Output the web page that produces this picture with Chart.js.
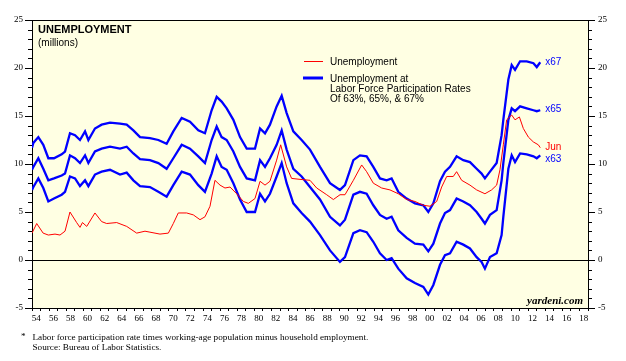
<!DOCTYPE html>
<html>
<head>
<meta charset="utf-8">
<style>
  html, body { margin: 0; padding: 0; background: #fff; }
  #wrap { position: relative; width: 626px; height: 361px; }
</style>
<script src="https://cdn.jsdelivr.net/npm/chart.js@4.4.1/dist/chart.umd.min.js"></script>
</head>
<body>
<div id="wrap"><canvas id="unemploymentChart" width="626" height="361"></canvas></div>
<script>
// Unemployment (millions), dates as decimal years
const unempDates = [
  1954.0, 1954.55, 1955.3, 1955.91, 1956.69, 1957.27, 1957.86, 1958.44, 1959.22, 1959.61,
  1959.9, 1960.4, 1961.36, 1962.14, 1962.73, 1963.9, 1965.07, 1966.24, 1967.21, 1967.79,
  1968.96, 1969.94, 1970.52, 1971.1, 1972.08, 1972.86, 1973.64, 1974.22, 1974.81, 1975.39,
  1975.98, 1976.56, 1977.15, 1977.93, 1978.71, 1979.29, 1980.07, 1980.66, 1981.24, 1981.82,
  1982.6, 1983.07, 1983.77, 1984.35, 1985.33, 1986.5, 1987.28, 1988.45, 1989.23, 1990.01,
  1990.59, 1991.57, 1992.54, 1993.12, 1993.9, 1994.88, 1995.85, 1996.82, 1997.8, 1998.77,
  1999.75, 2000.53, 2001.31, 2001.89, 2002.48, 2003.25, 2003.64, 2004.23, 2005.2, 2005.98,
  2006.95, 2007.73, 2008.32, 2008.71, 2009.1, 2009.49, 2010.08, 2010.47, 2010.98, 2011.44,
  2012.03, 2012.61, 2013.19, 2013.42
];
const unempValues = [
  2.8, 3.8, 2.8, 2.6, 2.7, 2.6, 3.0, 5.0, 3.9, 3.4,
  3.9, 3.5, 4.9, 4.0, 3.8, 3.9, 3.5, 2.8, 3.0, 2.9,
  2.7, 2.8, 3.8, 4.9, 4.9, 4.7, 4.2, 4.5, 5.6, 8.3,
  7.8, 7.5, 7.6, 6.9, 6.1, 5.9, 6.4, 8.2, 7.8, 8.2,
  10.4, 12.0, 9.7, 8.5, 8.4, 8.3, 7.5, 6.8, 6.3, 6.8,
  6.8, 8.3, 9.9, 9.2, 8.0, 7.5, 7.3, 6.9, 6.3, 6.1,
  5.7, 5.6, 6.1, 7.6, 8.7, 8.7, 9.2, 8.3, 7.8, 7.3,
  6.9, 7.3, 7.8, 9.4, 12.0, 14.6, 15.1, 14.6, 14.9, 13.7,
  12.8, 12.3, 12.0, 11.7
];

// Unemployment at participation rates of 63%, 65% and 67%
const lfprDates = [
  1954.0, 1954.16, 1954.74, 1955.32, 1955.91, 1956.57, 1957.47, 1957.86, 1958.44, 1959.03,
  1959.61, 1960.2, 1960.59, 1961.36, 1962.14, 1963.12, 1964.29, 1965.07, 1965.85, 1966.63,
  1967.79, 1968.77, 1969.74, 1970.52, 1971.5, 1972.47, 1973.44, 1974.22, 1975.0, 1975.59,
  1976.17, 1976.76, 1977.54, 1978.32, 1979.1, 1980.07, 1980.66, 1981.24, 1981.82, 1982.6,
  1983.19, 1983.77, 1984.55, 1985.52, 1986.5, 1987.67, 1988.84, 1990.0, 1990.59, 1991.57,
  1992.34, 1993.12, 1993.9, 1994.68, 1995.46, 1996.04, 1996.82, 1997.8, 1998.77, 1999.75,
  2000.33, 2000.92, 2001.7, 2002.28, 2002.87, 2003.64, 2004.42, 2005.2, 2005.98, 2006.56,
  2006.95, 2007.54, 2008.32, 2008.9, 2009.1, 2009.69, 2010.08, 2010.47, 2011.06, 2011.84,
  2012.62, 2013.01, 2013.42
];
const at63 = [
  7.3, 7.6, 8.5, 7.5, 6.1, 6.4, 6.8, 7.1, 8.7, 8.5,
  7.7, 8.3, 7.7, 8.9, 9.2, 9.4, 8.9, 9.1, 8.3, 7.7,
  7.6, 7.1, 6.6, 7.8, 9.2, 8.9, 7.8, 7.1, 9.0, 10.8,
  9.7, 9.4, 8.0, 6.3, 5.0, 5.0, 6.9, 6.1, 6.9, 8.7,
  10.1, 8.0, 5.9, 4.9, 4.0, 2.6, 1.0, -0.2, 0.3, 2.8,
  3.1, 2.9, 1.9, 0.7, 0.0, 0.2, -0.9, -1.9, -2.4, -2.8,
  -3.6, -2.6, -0.5, 0.5, 0.7, 1.9, 1.6, 1.2, 0.3, -0.2,
  -0.9, 0.3, 0.7, 2.6, 4.5, 9.5, 10.9, 10.2, 11.1, 11.0,
  10.8, 10.6, 10.9
];
const at65 = [
  9.4, 9.7, 10.6, 9.5, 8.3, 8.5, 8.8, 9.0, 10.9, 10.6,
  10.1, 10.9, 10.1, 11.3, 11.6, 11.8, 11.6, 11.8, 11.1, 10.5,
  10.4, 10.1, 9.5, 10.6, 12.0, 11.6, 10.8, 10.1, 12.5, 13.9,
  12.8, 12.5, 11.3, 9.7, 8.5, 8.3, 10.4, 9.7, 10.6, 12.0,
  13.5, 11.5, 9.5, 8.7, 7.6, 6.3, 4.5, 3.6, 4.2, 6.8,
  7.1, 6.9, 5.7, 4.7, 4.3, 4.5, 3.1, 2.3, 1.7, 1.6,
  0.9, 1.7, 3.8, 4.9, 5.2, 6.4, 6.1, 5.7, 5.0, 4.3,
  3.8, 4.7, 5.2, 8.3, 10.1, 14.6, 15.8, 15.5, 16.0, 15.8,
  15.6, 15.5, 15.6
];
const at67 = [
  11.7, 12.2, 12.8, 12.0, 10.6, 10.6, 11.0, 11.3, 13.2, 13.0,
  12.5, 13.4, 12.5, 13.7, 14.1, 14.3, 14.2, 14.1, 13.5, 12.8,
  12.7, 12.5, 12.1, 13.4, 14.8, 14.4, 13.5, 13.2, 15.6, 17.0,
  16.5, 15.8, 14.6, 12.8, 11.6, 11.6, 13.7, 13.2, 14.1, 16.0,
  17.1, 15.3, 13.4, 12.5, 11.5, 9.7, 8.0, 7.3, 7.8, 10.4,
  10.9, 10.8, 9.7, 8.5, 8.3, 8.5, 7.1, 6.4, 5.9, 5.7,
  5.0, 5.9, 8.2, 9.2, 9.7, 10.8, 10.4, 10.2, 9.5, 9.0,
  8.5, 9.2, 10.1, 13.0, 14.6, 18.8, 20.3, 19.8, 20.7, 20.7,
  20.5, 20.1, 20.6
];

// axis ranges
const yearMin = 1954, yearMax = 2019;
const valueMin = -5, valueMax = 25;

const SANS = '"Liberation Sans", Arial, sans-serif';
const SERIF = '"Liberation Serif", "Times New Roman", serif';
const RED = '#ff0000';
const BLUE = '#0000ff';

const toPoints = (xs, ys) => xs.map((x, i) => ({ x, y: ys[i] }));

// everything that is not a data mark: background, frame, ticks, legend, notes
const decorPlugin = {
  id: 'decor',
  beforeDraw(chart) {
    const { ctx, chartArea: a } = chart;
    ctx.save();
    ctx.fillStyle = '#ffffff';
    ctx.fillRect(0, 0, chart.width, chart.height);
    ctx.fillStyle = '#ffffe3';
    ctx.fillRect(a.left, a.top, a.right - a.left, a.bottom - a.top);
    ctx.restore();
  },
  beforeDatasetsDraw(chart) {
    const { ctx, chartArea: a, scales } = chart;
    const y0 = Math.round(scales.y.getPixelForValue(0)) + 0.5;
    ctx.save();
    ctx.strokeStyle = '#000';
    ctx.lineWidth = 1;
    ctx.beginPath();
    ctx.moveTo(a.left, y0); ctx.lineTo(a.right, y0);
    ctx.moveTo(a.left, a.top + 0.5); ctx.lineTo(a.right, a.top + 0.5);
    ctx.stroke();
    ctx.restore();
  },
  afterDraw(chart) {
    const { ctx, chartArea: a, scales } = chart;
    const ys = scales.y, xs = scales.x;
    ctx.save();

    // y tick marks both sides, long every 5
    ctx.strokeStyle = '#000';
    ctx.lineWidth = 1;
    ctx.beginPath();
    for (let v = valueMin; v <= valueMax; v++) {
      const py = Math.round(ys.getPixelForValue(v)) + 0.5;
      const len = v % 5 === 0 ? 7 : 4;
      ctx.moveTo(a.left - len, py); ctx.lineTo(a.left, py);
      ctx.moveTo(a.right, py); ctx.lineTo(a.right + len, py);
    }
    ctx.stroke();

    // title
    ctx.fillStyle = '#000';
    ctx.textAlign = 'left';
    ctx.textBaseline = 'alphabetic';
    ctx.font = 'bold 11px ' + SANS;
    ctx.fillText('UNEMPLOYMENT', 38, 33);
    ctx.font = '10px ' + SANS;
    ctx.fillText('(millions)', 38, 46);

    // legend
    ctx.lineWidth = 1;
    ctx.strokeStyle = RED;
    ctx.beginPath(); ctx.moveTo(304, 61.5); ctx.lineTo(323, 61.5); ctx.stroke();
    ctx.lineWidth = 3;
    ctx.strokeStyle = BLUE;
    ctx.beginPath(); ctx.moveTo(303, 78); ctx.lineTo(323, 78); ctx.stroke();
    ctx.textBaseline = 'middle';
    ctx.fillText('Unemployment', 330, 62);
    ctx.fillText('Unemployment at', 330, 79);
    ctx.fillText('Labor Force Participation Rates', 330, 89);
    ctx.fillText('Of 63%, 65%, & 67%', 330, 99);

    // end-of-line labels
    const endX = xs.getPixelForValue(lfprDates[lfprDates.length - 1]) + 5;
    const lastOf = arr => arr[arr.length - 1];
    const endLabels = [
      { text: 'x67', value: lastOf(at67), color: BLUE, dy: 0 },
      { text: 'x65', value: lastOf(at65), color: BLUE, dy: -1 },
      { text: 'Jun', value: lastOf(unempValues), color: RED, dy: 0 },
      { text: 'x63', value: lastOf(at63), color: BLUE, dy: 4 }
    ];
    endLabels.forEach(l => {
      ctx.fillStyle = l.color;
      ctx.fillText(l.text, endX, ys.getPixelForValue(l.value) + l.dy);
    });

    // watermark
    ctx.fillStyle = '#000';
    ctx.textAlign = 'right';
    ctx.textBaseline = 'alphabetic';
    ctx.font = 'italic bold 11px ' + SERIF;
    ctx.fillText('yardeni.com', 583, 304);

    // footnote
    ctx.textAlign = 'left';
    ctx.textBaseline = 'middle';
    ctx.font = '9.2px ' + SERIF;
    ctx.fillText('*', 21, 337);
    ctx.fillText('Labor force participation rate times working-age population minus household employment.', 32.5, 338);
    ctx.fillText('Source: Bureau of Labor Statistics.', 32.5, 347.5);
    ctx.restore();
  }
};

const ctx = document.getElementById('unemploymentChart').getContext('2d');

const chart = new Chart(ctx, {
  type: 'line',
  data: {
    datasets: [
      {
        label: 'Unemployment',
        data: toPoints(unempDates, unempValues),
        borderColor: RED,
        borderWidth: 1,
        pointRadius: 0,
        tension: 0
      },
      {
        label: 'x63',
        data: toPoints(lfprDates, at63),
        borderColor: BLUE,
        borderWidth: 2.3,
        pointRadius: 0,
        tension: 0
      },
      {
        label: 'x65',
        data: toPoints(lfprDates, at65),
        borderColor: BLUE,
        borderWidth: 2.3,
        pointRadius: 0,
        tension: 0
      },
      {
        label: 'x67',
        data: toPoints(lfprDates, at67),
        borderColor: BLUE,
        borderWidth: 2.3,
        pointRadius: 0,
        tension: 0
      }
    ]
  },
  options: {
    responsive: false,
    animation: false,
    devicePixelRatio: 1,
    layout: { padding: { left: 0, right: 0, top: 20, bottom: 35 } },
    plugins: {
      legend: { display: false },
      tooltip: { enabled: false }
    },
    scales: {
      x: {
        type: 'linear',
        min: yearMin,
        max: yearMax,
        afterFit: s => { s.height = 18; },
        border: { display: true, color: '#000', width: 1 },
        grid: { drawOnChartArea: false, tickLength: 3, color: '#000' },
        ticks: {
          stepSize: 1,
          autoSkip: false,
          maxTicksLimit: 100,
          maxRotation: 0,
          minRotation: 0,
          labelOffset: 4.3,
          padding: 2,
          color: '#000',
          font: { family: SERIF, size: 9 },
          // two-digit labels on even years, centred in the year
          callback: v => (v % 2 === 0 && v < yearMax) ? String(v).slice(2) : ''
        }
      },
      y: {
        position: 'left',
        min: valueMin,
        max: valueMax,
        afterFit: s => { s.width = 32; },
        border: { display: true, color: '#000', width: 1 },
        grid: { display: false, drawTicks: false },
        ticks: { stepSize: 5, padding: 9, color: '#000', font: { family: SERIF, size: 9 } }
      },
      y1: {
        position: 'right',
        min: valueMin,
        max: valueMax,
        afterFit: s => { s.width = 38; },
        border: { display: true, color: '#000', width: 1 },
        grid: { display: false, drawTicks: false },
        ticks: { stepSize: 5, padding: 10, color: '#000', font: { family: SERIF, size: 9 } }
      }
    }
  },
  plugins: [decorPlugin]
});
</script>
</body>
</html>
